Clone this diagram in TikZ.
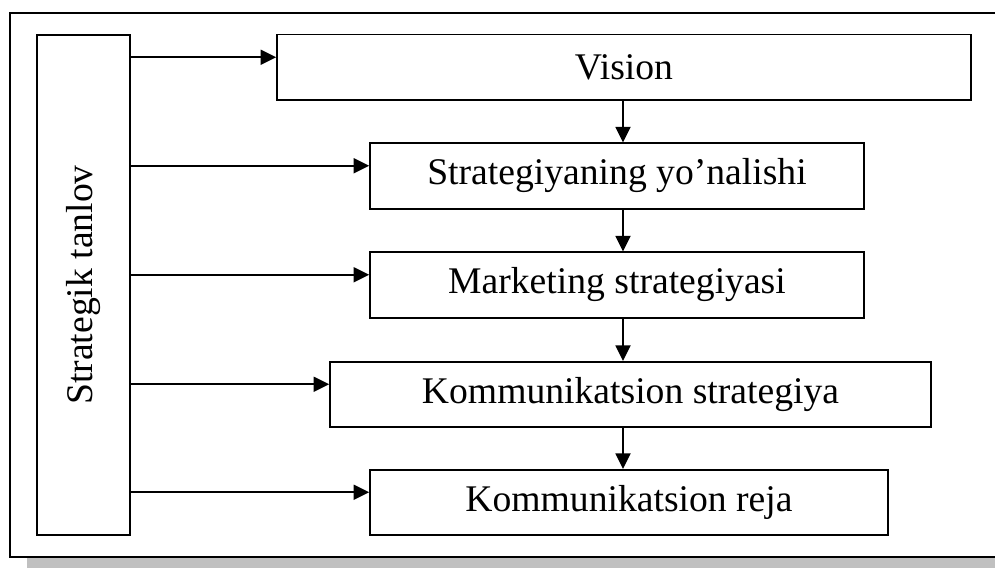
\documentclass[tikz,border=0pt]{standalone}
\usepackage{fontspec}
\setmainfont{Liberation Serif}
\usetikzlibrary{arrows.meta}
\definecolor{shadowgray}{HTML}{C0C0C0}
\tikzset{
	box/.style={draw,line width=0.6pt,inner sep=0pt,minimum height=24.4pt,font=\fontsize{14}{16}\selectfont},
	arr/.style={line width=0.6pt,-{Triangle[length=5.8pt,width=5.6pt]}}
}
\begin{document}
\begin{tikzpicture}[x=0.372pt,y=0.372pt]
		\useasboundingbox (0,0) rectangle (995,568);
		\fill[shadowgray] (27,0) rectangle (995,11);
		\draw[line width=0.6pt] (995,555) -- (10,555) -- (10,11) -- (995,11);
		\node[box,minimum width=34.6pt,minimum height=186pt] (choice) at (83.5,283) {};
		\node[rotate=90,font=\fontsize{14}{16}\selectfont] (choicetext) at (choice.center) {Strategik tanlov};
		\node[box,minimum width=258.2pt] (vision) at (624,500.5) {Vision};
		\node[box,minimum width=183.8pt] (yonalish) at (617,392) {Strategiyaning yo’nalishi};
		\node[box,minimum width=183.8pt] (marketing) at (617,283) {Marketing strategiyasi};
		\node[box,minimum width=223.6pt] (kstrat) at (630.5,173.5) {Kommunikatsion strategiya};
		\node[box,minimum width=192.7pt] (reja) at (629,65.5) {Kommunikatsion reja};
		% arrows from the left box
		\foreach \n in {vision,yonalish,marketing,kstrat,reja} {
			\coordinate (\n-in) at ([yshift=3.8pt]\n.west);
			\draw[arr] (choice.east |- \n-in) -- (\n-in);
		}
		% arrows down the chain
		\coordinate (ax) at (623,0);
		\draw[arr] (vision.south -| ax) -- (yonalish.north -| ax);
		\draw[arr] (yonalish.south -| ax) -- (marketing.north -| ax);
		\draw[arr] (marketing.south -| ax) -- (kstrat.north -| ax);
		\draw[arr] (kstrat.south -| ax) -- (reja.north -| ax);
	\end{tikzpicture}
\end{document}
